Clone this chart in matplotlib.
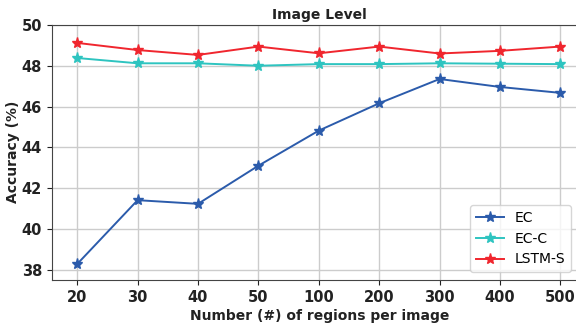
import matplotlib
matplotlib.use('Agg')
import matplotlib.pyplot as plt

regions = ['20', '30', '40', '50', '100', '200', '300', '400', '500']
ec = [38.28, 41.41, 41.23, 43.1, 44.82, 46.16, 47.35, 46.96, 46.67]
ec_c = [48.38, 48.12, 48.12, 48.0, 48.08, 48.08, 48.12, 48.1, 48.08]
lstm_s = [49.12, 48.77, 48.53, 48.94, 48.61, 48.94, 48.6, 48.73, 48.94]

fig = plt.figure(figsize=(5.76, 3.24), dpi=100)
ax = fig.add_axes([0.09, 0.136, 0.93, 0.787])

x = list(range(len(regions)))
ax.plot(x, ec, color='#2b5bab', marker='*', markersize=8, linewidth=1.4, label='EC')
ax.plot(x, ec_c, color='#2ec4c0', marker='*', markersize=8, linewidth=1.4, label='EC-C')
ax.plot(x, lstm_s, color='#f0262e', marker='*', markersize=8, linewidth=1.4, label='LSTM-S')

ax.set_xticks(x)
ax.set_xticklabels(regions)
ax.set_xlim(-0.42, 8.45)
ax.set_ylim(37.5, 50)
ax.set_yticks([38, 40, 42, 44, 46, 48, 50])
ax.grid(True, color='#cccccc', linewidth=1)
ax.set_axisbelow(True)
for s in ax.spines.values():
    s.set_color('#444444')
ax.tick_params(colors='#222222', labelsize=10.5)
for lab in ax.get_xticklabels() + ax.get_yticklabels():
    lab.set_fontweight('bold')

ax.set_title('Image Level', fontsize=10, fontweight='bold', pad=4, color='#222222')
ax.set_xlabel('Number (#) of regions per image', fontsize=10, fontweight='bold', color='#222222', labelpad=3)
ax.set_ylabel('Accuracy (%)', fontsize=10, fontweight='bold', color='#222222')
ax.yaxis.set_label_coords(-0.06, 0.502)
ax.legend(loc='lower right', bbox_to_anchor=(0.969, 0.031), borderaxespad=0, fontsize=10)

fig.savefig('out.png', dpi=100)
